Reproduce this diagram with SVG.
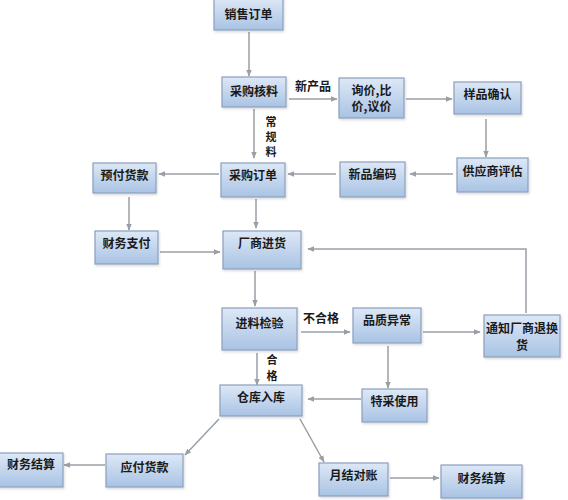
<svg xmlns="http://www.w3.org/2000/svg" width="568" height="500" viewBox="0 0 568 500">
<defs>
<linearGradient id="g" x1="0" y1="0" x2="0" y2="1">
<stop offset="0" stop-color="#dde8f6"/>
<stop offset="1" stop-color="#a9c3e4"/>
</linearGradient>
<marker id="a" viewBox="0 0 10 10" refX="9" refY="5" markerWidth="7" markerHeight="7" orient="auto" markerUnits="userSpaceOnUse">
<path d="M0,1 L10,5 L0,9 z" fill="#9a9fa6"/>
</marker>
<filter id="s" x="-10%" y="-10%" width="130%" height="140%">
<feDropShadow dx="1" dy="1.5" stdDeviation="1" flood-color="#000" flood-opacity="0.15"/>
</filter>
</defs>
<style>
.b{fill:url(#g);stroke:#8aa0bd;stroke-width:1.2;filter:url(#s)}
.t{font-family:"Noto Sans CJK SC","Noto Sans CJK JP",sans-serif;font-size:12px;font-weight:bold;fill:#1a1a1a;text-anchor:middle}
.l{font-family:"Noto Sans CJK SC","Noto Sans CJK JP",sans-serif;font-size:12px;font-weight:bold;fill:#1a1a1a;text-anchor:middle}
.v{font-family:"Noto Sans CJK SC","Noto Sans CJK JP",sans-serif;font-size:11px;font-weight:bold;fill:#1a1a1a;text-anchor:middle}
.c{fill:none;stroke:#9a9fa6;stroke-width:1.5}
</style>
<rect width="568" height="500" fill="#fff"/>
<g id="connectors">
<line class="c" x1="249" y1="32" x2="249" y2="76" marker-end="url(#a)"/>
<line class="c" x1="289" y1="99" x2="337" y2="99" marker-end="url(#a)"/>
<line class="c" x1="406" y1="99" x2="452" y2="99" marker-end="url(#a)"/>
<line class="c" x1="486" y1="119" x2="486" y2="157" marker-end="url(#a)"/>
<line class="c" x1="254" y1="109" x2="254" y2="158" marker-end="url(#a)"/>
<line class="c" x1="453" y1="174" x2="410" y2="174" marker-end="url(#a)"/>
<line class="c" x1="336" y1="174" x2="288" y2="174" marker-end="url(#a)"/>
<line class="c" x1="219" y1="174" x2="159" y2="174" marker-end="url(#a)"/>
<line class="c" x1="129" y1="197" x2="129" y2="230" marker-end="url(#a)"/>
<line class="c" x1="256" y1="199" x2="256" y2="228" marker-end="url(#a)"/>
<line class="c" x1="160" y1="252" x2="220" y2="252" marker-end="url(#a)"/>
<polyline class="c" points="526,313 526,249 308,249" marker-end="url(#a)"/>
<line class="c" x1="255" y1="271" x2="255" y2="306" marker-end="url(#a)"/>
<line class="c" x1="301" y1="332" x2="350" y2="332" marker-end="url(#a)"/>
<line class="c" x1="423" y1="332" x2="480" y2="332" marker-end="url(#a)"/>
<line class="c" x1="257" y1="353" x2="257" y2="385" marker-end="url(#a)"/>
<line class="c" x1="388" y1="346" x2="388" y2="388" marker-end="url(#a)"/>
<line class="c" x1="361" y1="399" x2="308" y2="399" marker-end="url(#a)"/>
<line class="c" x1="219" y1="419" x2="185" y2="455" marker-end="url(#a)"/>
<line class="c" x1="300" y1="419" x2="324" y2="462" marker-end="url(#a)"/>
<line class="c" x1="105" y1="465" x2="64" y2="465" marker-end="url(#a)"/>
<line class="c" x1="390" y1="478" x2="439" y2="478" marker-end="url(#a)"/>
</g>
<g id="labels">
<text class="l" x="313" y="91">新产品</text>
<text class="v" x="271" y="126">常</text>
<text class="v" x="271" y="141">规</text>
<text class="v" x="271" y="156">料</text>
<text class="l" x="321" y="323">不合格</text>
<text class="v" x="272" y="364">合</text>
<text class="v" x="272" y="380">格</text>
</g>
<g id="n1"><rect class="b" x="214" y="-2" width="69" height="32"/><text class="t" x="248.5" y="19">销售订单</text></g>
<g id="n2"><rect class="b" x="222" y="77" width="64" height="30"/><text class="t" x="254" y="96">采购核料</text></g>
<g id="n3"><rect class="b" x="339" y="78" width="65" height="40"/><text class="t" x="371.5" y="95">询价,比</text><text class="t" x="371.5" y="111">价,议价</text></g>
<g id="n4"><rect class="b" x="454" y="82" width="67" height="32"/><text class="t" x="487.5" y="99">样品确认</text></g>
<g id="n5"><rect class="b" x="457" y="158" width="71" height="34"/><text class="t" x="492.5" y="176">供应商评估</text></g>
<g id="n6"><rect class="b" x="340" y="162" width="65" height="35"/><text class="t" x="372.5" y="179">新品编码</text></g>
<g id="n7"><rect class="b" x="221" y="163" width="64" height="34"/><text class="t" x="253" y="180">采购订单</text></g>
<g id="n8"><rect class="b" x="93" y="163" width="63" height="30"/><text class="t" x="124.5" y="180">预付货款</text></g>
<g id="n9"><rect class="b" x="95" y="231" width="63" height="33"/><text class="t" x="126.5" y="248">财务支付</text></g>
<g id="n10"><rect class="b" x="223" y="231" width="78" height="38"/><text class="t" x="262" y="248">厂商进货</text></g>
<g id="n11"><rect class="b" x="222" y="308" width="75" height="42"/><text class="t" x="259.5" y="328">进料检验</text></g>
<g id="n12"><rect class="b" x="353" y="308" width="68" height="35"/><text class="t" x="387" y="325">品质异常</text></g>
<g id="n13"><rect class="b" x="484" y="315" width="76" height="42"/><text class="t" x="522" y="333">通知厂商退换</text><text class="t" x="522" y="350">货</text></g>
<g id="n14"><rect class="b" x="362" y="389" width="65" height="33"/><text class="t" x="394.5" y="406">特采使用</text></g>
<g id="n15"><rect class="b" x="220" y="385" width="82" height="31"/><text class="t" x="261" y="402">仓库入库</text></g>
<g id="n16"><rect class="b" x="106" y="454" width="77" height="33"/><text class="t" x="144.5" y="472">应付货款</text></g>
<g id="n17"><rect class="b" x="-1" y="453" width="64" height="34"/><text class="t" x="31" y="469">财务结算</text></g>
<g id="n18"><rect class="b" x="319" y="463" width="69" height="33"/><text class="t" x="353.5" y="480">月结对账</text></g>
<g id="n19"><rect class="b" x="441" y="465" width="81" height="33"/><text class="t" x="481.5" y="483">财务结算</text></g>
</svg>
